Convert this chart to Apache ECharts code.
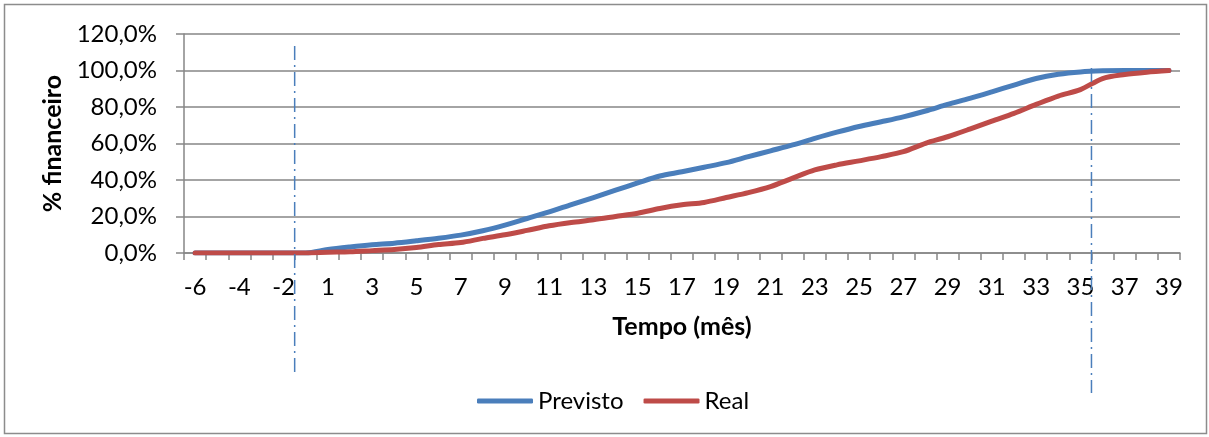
<!DOCTYPE html>
<html>
<head>
<meta charset="utf-8">
<script src="https://cdn.jsdelivr.net/npm/echarts@6/dist/echarts.min.js"></script>
<style>
html,body{margin:0;padding:0;background:#fff;}
#chart{width:1209px;height:437px;}
</style>
</head>
<body>
<div id="chart"></div>
<script>
// ---- data ----
const categories = ['-6','-5','-4','-3','-2','-1','1','2','3','4','5','6','7','8','9','10','11','12','13','14','15','16','17','18','19','20','21','22','23','24','25','26','27','28','29','30','31','32','33','34','35','36','37','38','39'];
const previsto = [0,0,0,0,0,0,1.9,3.3,4.5,5.4,6.7,8.1,9.8,12.2,15.3,18.9,22.5,26.5,30.4,34.4,38.4,42.2,44.5,47,49.5,52.8,56,59.2,62.8,66.2,69.3,71.9,74.6,77.8,81.4,84.7,88.3,92,95.6,97.9,99.2,99.8,100,100,100];
const real = [0,0,0,0,0,0,0.4,0.7,1.3,1.9,3,4.6,5.7,8,10,12.4,14.9,16.7,18.2,20,21.8,24.4,26.4,27.7,30.4,33.1,36.4,41,45.5,48.3,50.5,52.8,55.5,60.1,63.7,67.9,72.3,76.5,81.4,86,89.5,95.6,97.8,99.1,100];
const yMin = 0, yMax = 120, yStep = 20;
const seriesNames = ['Previsto', 'Real'];
const markerCategories = [['-2','-1'], ['35','36']]; // vertical dash-dot lines between these categories

const FONT = 'Lato';
const chart = echarts.init(document.getElementById('chart'), null, {renderer: 'canvas'});
const axisGray = '#868686';

chart.setOption({
  animation: false,
  backgroundColor: '#ffffff',
  grid: {left: 184, right: 29, top: 34, bottom: 184, containLabel: false},
  legend: {
    data: seriesNames,
    left: 472, top: 384,
    icon: 'roundRect',
    itemWidth: 56, itemHeight: 5, itemGap: 20,
    textStyle: {fontFamily: FONT, fontSize: 24, color: '#000'}
  },
  xAxis: {
    type: 'category',
    data: categories,
    boundaryGap: true,
    name: 'Tempo (mês)',
    nameLocation: 'middle',
    nameGap: 61,
    nameTextStyle: {fontFamily: FONT, fontSize: 25, fontWeight: 'bold', color: '#000'},
    axisLine: {lineStyle: {color: axisGray, width: 1.5}},
    axisTick: {show: true, interval: 0, length: 7, lineStyle: {color: axisGray, width: 1.5}},
    axisLabel: {interval: 1, fontFamily: FONT, fontSize: 24, color: '#000', margin: 22},
    splitLine: {show: false}
  },
  yAxis: {
    type: 'value',
    min: yMin, max: yMax, interval: yStep,
    name: '% financeiro',
    nameLocation: 'middle',
    nameGap: 112,
    nameTextStyle: {fontFamily: FONT, fontSize: 25, fontWeight: 'bold', color: '#000'},
    axisLine: {show: true, lineStyle: {color: axisGray, width: 1.5}},
    axisTick: {show: true, length: 8, lineStyle: {color: axisGray, width: 1.5}},
    axisLabel: {fontFamily: FONT, fontSize: 24, color: '#000', margin: 27,
      formatter: v => v.toFixed(1).replace('.', ',') + '%'},
    splitLine: {show: true, lineStyle: {color: axisGray, width: 1.5}}
  },
  series: [
    {name: seriesNames[0], type: 'line', data: previsto, smooth: 0.3, symbol: 'none',
     lineStyle: {color: '#4A7EBB', width: 5, cap: 'round', join: 'round'}, itemStyle: {color: '#4A7EBB'}, z: 3},
    {name: seriesNames[1], type: 'line', data: real, smooth: 0.3, symbol: 'none',
     lineStyle: {color: '#BE4B48', width: 5, cap: 'round', join: 'round'}, itemStyle: {color: '#BE4B48'}, z: 4}
  ]
});

// annotation lines (dash-dot) at category boundaries
function boundaryX(pair) {
  const a = chart.convertToPixel({xAxisIndex: 0}, pair[0]);
  const b = chart.convertToPixel({xAxisIndex: 0}, pair[1]);
  return (a + b) / 2;
}
const x1 = boundaryX(markerCategories[0]);
const x2 = boundaryX(markerCategories[1]);
const dash = {stroke: '#4A7EBB', lineWidth: 1.5, lineDash: [14, 5, 2, 5]};
chart.setOption({
  graphic: [
    {type: 'rect', shape: {x: 4.5, y: 4.5, width: 1202, height: 429}, style: {fill: 'none', stroke: '#8c8c8c', lineWidth: 1.5}, z: -1, silent: true},
    {type: 'line', shape: {x1: x1, y1: 46, x2: x1, y2: 373}, style: dash, z: 10},
    {type: 'line', shape: {x1: x2, y1: 68, x2: x2, y2: 393}, style: dash, z: 10}
  ]
});
</script>
</body>
</html>
